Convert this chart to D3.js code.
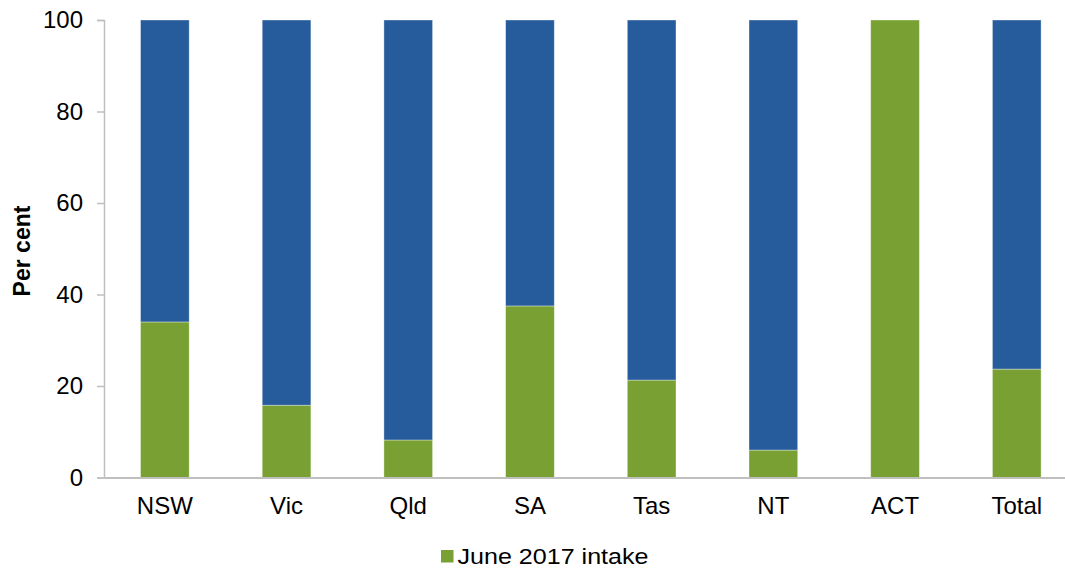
<!DOCTYPE html>
<html><head><meta charset="utf-8">
<script src="https://cdn.jsdelivr.net/npm/d3@7"></script>
<style>html,body{margin:0;padding:0;background:#fff;}svg{display:block;font-family:"Liberation Sans",Arial,sans-serif;}</style>
</head><body>
<svg id="c" width="1065" height="568"></svg>
<script>
const categories = ["NSW","Vic","Qld","SA","Tas","NT","ACT","Total"];
const june2017 = [34.0,15.8,8.2,37.5,21.3,6.0,100,23.7];
const remainder = june2017.map(v => 100 - v);
const yTicks = [0,20,40,60,80,100];
const seriesNames = ["June 2017 intake","Other"];
const colors = ["#78A032","#275C9C"];

const svg = d3.select("#c");
const x = d3.scaleBand().domain(categories).range([104,1077.6]).paddingInner(0.6).paddingOuter(0.3);
const y = d3.scaleLinear().domain([0,100]).range([477.5,20]);

const rows = categories.map((c,i)=>({cat:c, a:june2017[i], b:remainder[i]}));
const stack = d3.stack().keys(["a","b"])(rows);

svg.append("g").selectAll("g").data(stack).join("g")
  .attr("fill",(d,i)=>colors[i])
  .selectAll("rect").data(d=>d).join("rect")
  .attr("x",d=>x(d.data.cat))
  .attr("width",x.bandwidth())
  .attr("y",d=>y(d[1]))
  .attr("height",d=>y(d[0])-y(d[1]))
  .attr("stroke","rgba(255,255,255,0.45)").attr("stroke-width",0.8);

const FS = 24;
// y axis
const ya = svg.append("g").attr("transform","translate(104,0)")
  .call(d3.axisLeft(y).tickValues(yTicks).tickSize(7).tickPadding(14));
ya.select(".domain").attr("stroke","#BFBFBF").attr("stroke-width",1.5);
ya.selectAll(".tick line").attr("stroke","#BFBFBF").attr("stroke-width",1.5);
ya.selectAll(".tick text").attr("font-size",FS).attr("fill","#000").attr("font-family","Liberation Sans, Arial, sans-serif");

// x axis
const xa = svg.append("g").attr("transform","translate(0,477.5)")
  .call(d3.axisBottom(x).tickSize(0).tickPadding(19));
xa.select(".domain").attr("stroke","#BFBFBF").attr("stroke-width",2);
xa.selectAll(".tick text").attr("font-size",FS).attr("fill","#000").attr("font-family","Liberation Sans, Arial, sans-serif");

svg.append("text").attr("transform","translate(30,251) rotate(-90)")
  .attr("text-anchor","middle").attr("font-size",FS-1).attr("font-weight","bold").text("Per cent");

// legend
const lg = svg.append("g").attr("transform","translate(441,550)");
lg.append("rect").attr("width",12.5).attr("height",12.5).attr("fill",colors[0]);
lg.append("text").attr("x",16.5).attr("y",13.5).attr("font-size",21.5)
  .attr("textLength",191).attr("lengthAdjust","spacingAndGlyphs").text(seriesNames[0]);
</script>
</body></html>
